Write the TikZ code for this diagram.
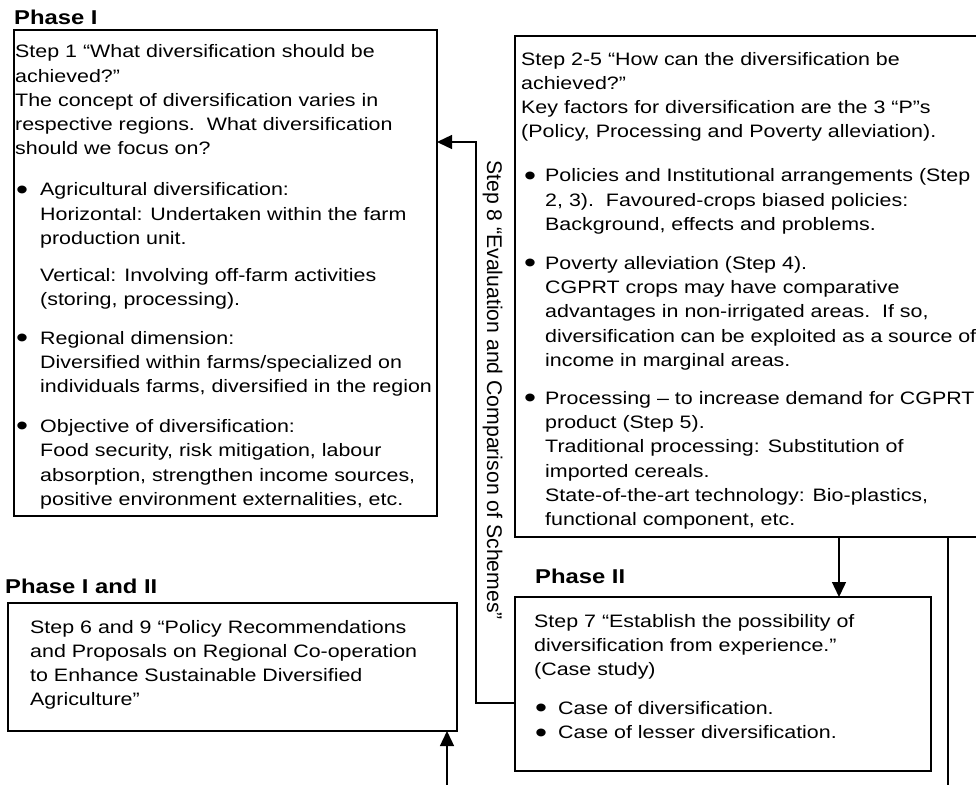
\documentclass[tikz,border=0pt]{standalone}
\usepackage{fontspec}
\setmainfont{Liberation Sans}[FakeStretch=1.19]
\newfontfamily\rotfont{Liberation Sans}
\usetikzlibrary{arrows.meta}

% body type and list helpers
\newcommand\bodysize{\fontsize{18}{24.2}\selectfont}
\newcommand\bigdot{\smash{\raisebox{-3.2pt}{\scalebox{1.6}{\textbullet}}}}
\newcommand\bul[2]{\hspace*{#1}\makebox[#2][l]{\bigdot}}
\newcommand\ind[1]{\hspace*{#1}}

\begin{document}
\begin{tikzpicture}[x=1pt,y=-1pt,
  frame/.style={draw, line width=1.6pt, inner sep=0pt, outer sep=0pt, anchor=north west},
  body/.style={anchor=base west, inner sep=0pt, font=\bodysize},
  phase/.style={anchor=base west, inner sep=0pt, font=\fontsize{20}{24}\selectfont\bfseries},
  link/.style={line width=1.4pt, -{Triangle[length=15pt,width=14pt]}}]

\useasboundingbox (0,0) rectangle (976,784);

% frames
\node[frame, minimum width=423pt, minimum height=486pt] (b1) at (14,30) {};
\node[frame, minimum width=475pt, minimum height=501pt] (b2) at (515,36) {};
\node[frame, minimum width=449pt, minimum height=128pt] (b6) at (8,603) {};
\node[frame, minimum width=416pt, minimum height=174pt] (b7) at (515,597) {};

% phase headings
\node[phase] (p1) at (14,25) {Phase I};
\node[phase] (p12) at (5,593) {Phase I and II};
\node[phase] (p2) at (535,583) {Phase II};

% step 1
\node[body] (t1) at (15,58) {\parbox[t]{420pt}{\raggedright
Step 1 “What diversification should be\\
achieved?”\\
The concept of diversification varies in\\
respective regions.\ \ What diversification\\
should we focus on?\\[17pt]
\bul{1pt}{24pt}Agricultural diversification:\\
\ind{25pt}Horizontal: Undertaken within the farm\\
\ind{25pt}production unit.\\[13pt]
\ind{25pt}Vertical: Involving off-farm activities\\
\ind{25pt}(storing, processing).\\[14pt]
\bul{1pt}{24pt}Regional dimension:\\
\ind{25pt}Diversified within farms/specialized on\\
\ind{25pt}individuals farms, diversified in the region\\[16pt]
\bul{1pt}{24pt}Objective of diversification:\\
\ind{25pt}Food security, risk mitigation, labour\\
\ind{25pt}absorption, strengthen income sources,\\
\ind{25pt}positive environment externalities, etc.}};

% steps 2-5
\node[body] (t2) at (521,65) {\parbox[t]{455pt}{\raggedright
Step 2-5 “How can the diversification be\\
achieved?”\\
Key factors for diversification are the 3 “P”s\\
(Policy, Processing and Poverty alleviation).\\[20pt]
\bul{3pt}{21pt}Policies and Institutional arrangements (Step\\
\ind{24pt}2, 3).\ \ Favoured-crops biased policies:\\
\ind{24pt}Background, effects and problems.\\[15pt]
\bul{3pt}{21pt}Poverty alleviation (Step 4).\\
\ind{24pt}CGPRT crops may have comparative\\
\ind{24pt}advantages in non-irrigated areas.\ \ If so,\\
\ind{24pt}diversification can be exploited as a source of\\
\ind{24pt}income in marginal areas.\\[14pt]
\bul{3pt}{21pt}Processing – to increase demand for CGPRT\\
\ind{24pt}product (Step 5).\\
\ind{24pt}Traditional processing: Substitution of\\
\ind{24pt}imported cereals.\\
\ind{24pt}State-of-the-art technology: Bio-plastics,\\
\ind{24pt}functional component, etc.}};

% steps 6 and 9
\node[body] (t6) at (30,633) {\parbox[t]{420pt}{\raggedright
Step 6 and 9 “Policy Recommendations\\
and Proposals on Regional Co-operation\\
to Enhance Sustainable Diversified\\
Agriculture”}};

% step 7
\node[body] (t7) at (534,627) {\parbox[t]{390pt}{\raggedright
Step 7 “Establish the possibility of\\
diversification from experience.”\\
(Case study)\\[15pt]
\bul{1pt}{23pt}Case of diversification.\\
\bul{1pt}{23pt}Case of lesser diversification.}};

% step 8 label along the feedback line
\node[anchor=base west, rotate=-90, inner sep=0pt,
      font=\rotfont\fontsize{21.2}{25}\selectfont] (s8) at (487,160)
      {Step 8 “Evaluation and Comparison of Schemes”};

% connectors
\coordinate (k1) at (476,703);
\coordinate (k2) at (476,142);
\coordinate (k3) at (839,0);
\coordinate (k4) at (948,800);
\coordinate (k5) at (447,800);

\draw[link] (b7.west |- k1) -- (k1) -- (k2) -- (b1.east |- k2);
\draw[link] (b2.south -| k3) -- (b7.north -| k3);
\draw[link] (b2.south -| k4) -- (k4) -- (k5) -- (b6.south -| k5);
\end{tikzpicture}
\end{document}
